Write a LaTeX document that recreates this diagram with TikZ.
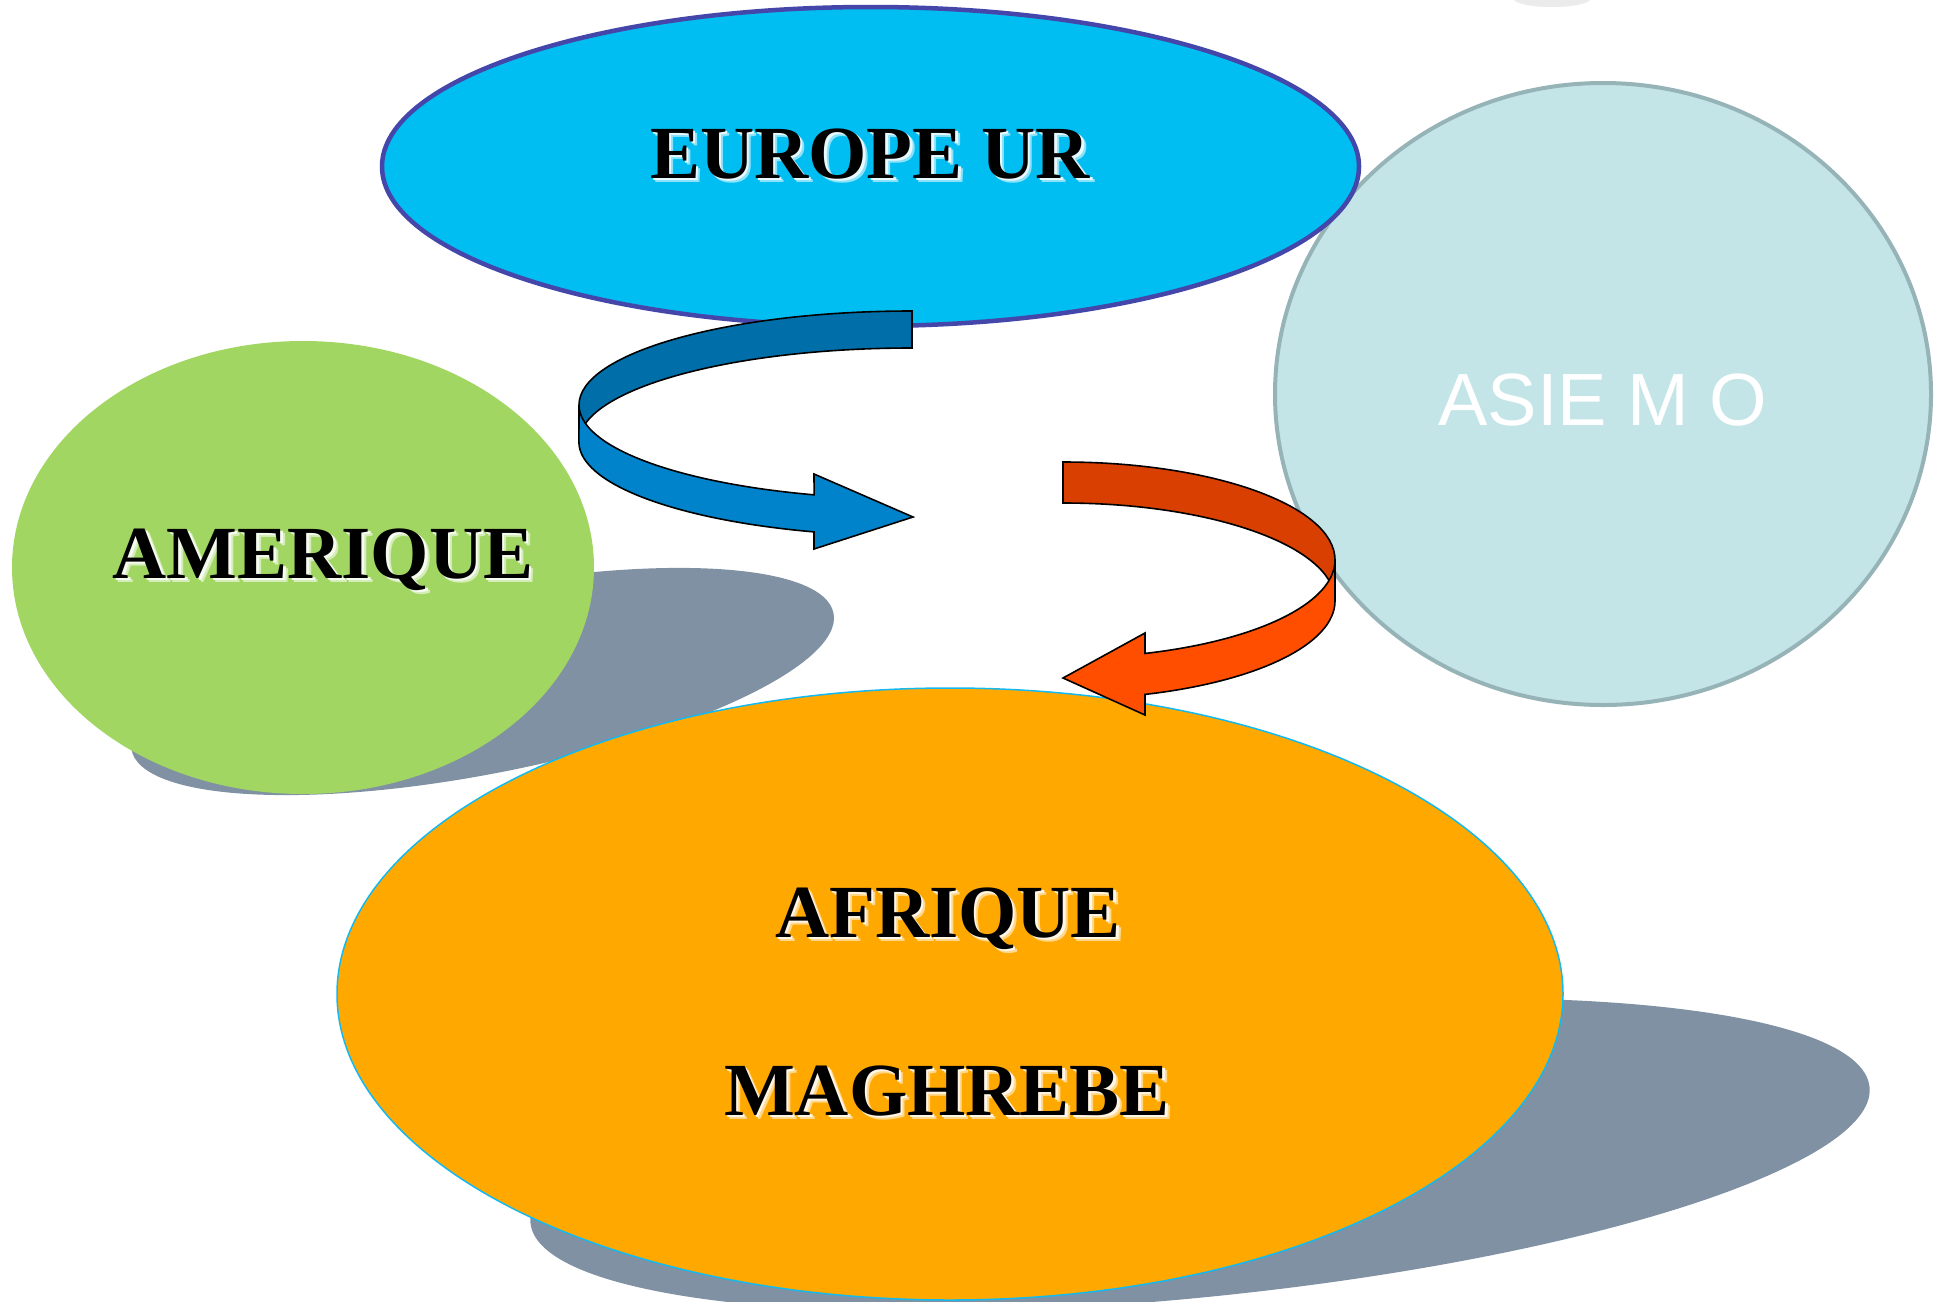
\documentclass[tikz,border=0pt]{standalone}
\usepackage{fontspec}
\setmainfont{Liberation Serif}
\newfontfamily\asiefont{Liberation Sans}
\usetikzlibrary{shapes.geometric}
\definecolor{europefill}{RGB}{0,190,242}
\definecolor{europeline}{RGB}{68,70,170}
\definecolor{amerfill}{RGB}{161,214,99}
\definecolor{asiefill}{RGB}{196,229,232}
\definecolor{asieline}{RGB}{150,180,184}
\definecolor{afrfill}{RGB}{255,169,0}
\definecolor{afrline}{RGB}{20,185,240}
\definecolor{shadowc}{RGB}{128,145,163}
\definecolor{bluedark}{RGB}{0,110,168}
\definecolor{bluelight}{RGB}{0,131,202}
\definecolor{orangedark}{RGB}{216,63,0}
\definecolor{orangelight}{RGB}{255,78,0}
% text with a soft white glow below right, in one box
\newcommand{\glowtxt}[2]{%
  \rlap{\kern4.5pt\raisebox{-4.5pt}{\color{white!55!#1}#2}}%
  \rlap{\kern2.5pt\raisebox{-2.5pt}{\color{white!90!#1}#2}}%
  #2}
\tikzset{
  region/.style={ellipse, inner sep=0pt, outer sep=0pt},
  castshadow/.style={fill=shadowc},
  ribbon/.style={draw=black, line width=1.6pt, line join=miter},
  lbl/.style={inner sep=0pt, anchor=base, font=\fontsize{75}{90}\selectfont\bfseries, text=black},
  asielbl/.style={inner sep=0pt, anchor=base, font=\fontsize{74}{88}\selectfont\asiefont, text=white}
}
\begin{document}
\begin{tikzpicture}[x=1pt,y=1pt]
\useasboundingbox (0,0) rectangle (1945,-1301);
\fill[white] (0,0) rectangle (1945,-1301);
\clip (0,0) rectangle (1945,-1301);

% faint blob at the top edge
\fill[black!8] (1552,1) ellipse [x radius=38, y radius=8];

% cast shadows
\fill[castshadow, rotate around={11:(482.5,-681.5)}] (482.5,-681.5) ellipse [x radius=357.6, y radius=92.5];
\fill[castshadow, rotate around={5.8:(1200,-1155)}] (1200,-1155) ellipse [x radius=673, y radius=142];

% regions
\node[region, fill=amerfill, minimum width=582pt, minimum height=453pt] (amerique) at (303,-567.5) {};
\node[region, fill=afrfill, draw=afrline, line width=1.5pt, minimum width=1226pt, minimum height=612pt] (afrique) at (950,-994) {};
\node[region, fill=asiefill, draw=asieline, line width=4pt, minimum width=656pt, minimum height=622pt] (asie) at (1603,-394) {};
\node[region, fill=europefill, draw=europeline, line width=4.5pt, minimum width=977pt, minimum height=319pt] (europe) at (870.5,-166.5) {};

% blue ribbon arrow (Europe -> centre)
\draw[ribbon, fill=bluedark] (912,-311) arc[start angle=90, end angle=180, x radius=333, y radius=94]
  -- (579,-442) arc[start angle=180, end angle=90, x radius=333, y radius=94] -- cycle;
\draw[ribbon, fill=bluelight] (579,-405) arc[start angle=180, end angle=252.9, x radius=333, y radius=94]
  -- (814,-474) -- (913,-517) -- (814,-549) -- (814,-531.9)
  arc[start angle=252.9, end angle=180, x radius=333, y radius=94] -- cycle;

% orange ribbon arrow (centre -> Afrique)
\draw[ribbon, fill=orangedark] (1063,-462) arc[start angle=90, end angle=0, x radius=272, y radius=98]
  -- (1335,-601) arc[start angle=0, end angle=90, x radius=272, y radius=98] -- cycle;
\draw[ribbon, fill=orangelight] (1335,-560) arc[start angle=0, end angle=-72.45, x radius=272, y radius=98]
  -- (1145,-633) -- (1063,-678) -- (1145,-715) -- (1145,-694.4)
  arc[start angle=-72.45, end angle=0, x radius=272, y radius=98] -- cycle;

% labels
\node[lbl] (europe-t) at (870,-178) {\glowtxt{europefill}{EUROPE UR}};
\node[lbl] (amer-t) at (323,-578) {\glowtxt{amerfill}{AMERIQUE}};
\node[lbl] (afr-t) at (948,-937) {\glowtxt{afrfill}{AFRIQUE}};
\node[lbl] (magh-t) at (947,-1115) {\glowtxt{afrfill}{MAGHREBE}};
\node[asielbl] (asie-t) at (1603,-425) {ASIE M O};
\end{tikzpicture}
\end{document}
